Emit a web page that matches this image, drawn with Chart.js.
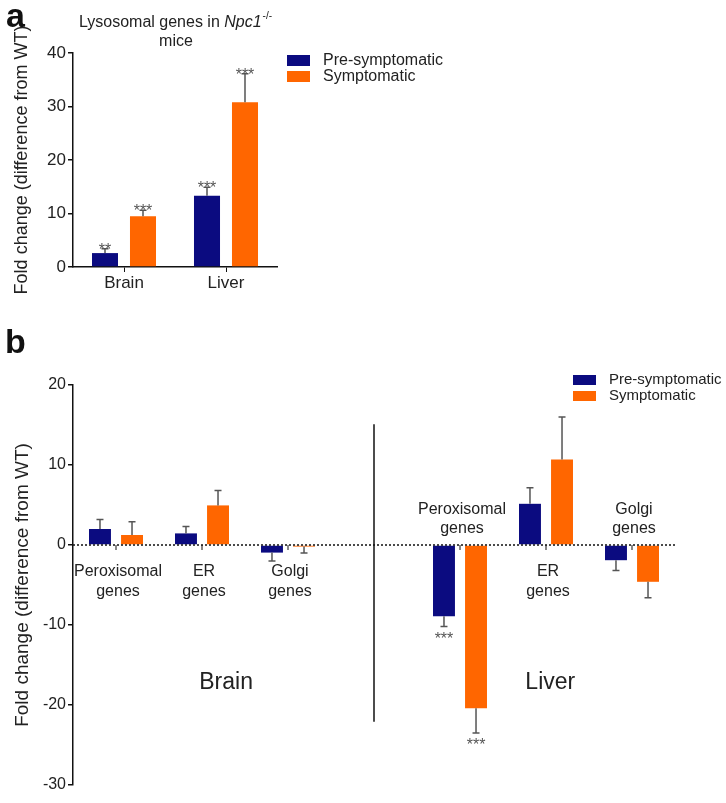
<!DOCTYPE html>
<html>
<head>
<meta charset="utf-8">
<script src="https://cdn.jsdelivr.net/npm/chart.js@4.4.0/dist/chart.umd.min.js"></script>
<style>
  html, body { margin: 0; padding: 0; background: #fff; }
  #wrap-a { position: absolute; left: 0; top: 0; }
  #wrap-b { position: absolute; left: 0; top: 300px; }
</style>
</head>
<body>
<div id="wrap-a"><canvas id="chart-a" width="726" height="300"></canvas></div>
<div id="wrap-b"><canvas id="chart-b" width="726" height="503"></canvas></div>
<script>
var FONT = "'Liberation Sans', Arial, sans-serif";

var seriesNames = ['Pre-symptomatic', 'Symptomatic'];
var seriesColors = ['#0b0b80', '#ff6600'];

// panel a: lysosomal genes
var tissues = ['Brain', 'Liver'];
var lysoPre = [2.6, 13.3];
var lysoPreErr = [0.8, 1.6];
var lysoPreStars = ['**', '***'];
var lysoSym = [9.5, 30.8];
var lysoSymErr = [1.1, 5.3];
var lysoSymStars = ['***', '***'];
var yTicksA = [0, 10, 20, 30, 40];

// panel b: other organelle genes (4th slot is the brain / liver divider)
var geneSets = ['Peroxisomal genes', 'ER genes', 'Golgi genes', '', 'Peroxisomal genes', 'ER genes', 'Golgi genes'];
var orgPre = [2.0, 1.45, -0.95, null, -8.9, 5.15, -1.9];
var orgPreErr = [1.2, 0.85, 1.05, null, 1.3, 2.0, 1.3];
var orgPreStars = ['', '', '', '', '***', '', ''];
var orgSym = [1.25, 4.95, -0.2, null, -20.4, 10.7, -4.6];
var orgSymErr = [1.65, 1.85, 0.8, null, 3.1, 5.3, 2.0];
var orgSymStars = ['', '', '', '', '***', '', ''];
var groupNames = ['Brain', 'Liver'];
var yTicksB = [-30, -20, -10, 0, 10, 20];

// where the gene set labels go, relative to the zero line
var labelSide = ['below', 'below', 'below', null, 'above', 'below', 'above'];
var groupAt = [1.28, 5.05];
var dividerFrom = 15.1, dividerTo = -22.1;

function makeDataset(i, data, errs, stars) {
  return {
    label: seriesNames[i],
    data: data,
    errors: errs,
    stars: stars,
    backgroundColor: seriesColors[i],
    borderWidth: 0,
    categoryPercentage: 0.745,
    barPercentage: 0.685
  };
}

var errorBars = {
  id: 'errorBars',
  afterDatasetsDraw: function(chart) {
    var ctx = chart.ctx, y = chart.scales.y;
    chart.data.datasets.forEach(function(ds, i) {
      var meta = chart.getDatasetMeta(i);
      meta.data.forEach(function(bar, j) {
        var v = ds.data[j];
        if (v === null) return;
        var end = v >= 0 ? v + ds.errors[j] : v - ds.errors[j];
        var y0 = y.getPixelForValue(v), y1 = y.getPixelForValue(end);
        ctx.save();
        ctx.strokeStyle = '#555';
        ctx.lineWidth = 1.5;
        ctx.beginPath();
        ctx.moveTo(bar.x, y0);
        ctx.lineTo(bar.x, y1);
        ctx.moveTo(bar.x - 3.5, y1);
        ctx.lineTo(bar.x + 3.5, y1);
        ctx.stroke();
        if (ds.stars[j]) {
          ctx.fillStyle = '#555';
          ctx.font = '16px ' + FONT;
          ctx.textAlign = 'center';
          ctx.textBaseline = 'alphabetic';
          ctx.fillText(ds.stars[j], bar.x, v >= 0 ? y1 + 6 : y1 + 17);
        }
        ctx.restore();
      });
    });
  }
};

function drawLegend(ctx, x, y, boxW, boxH, gap, size) {
  ctx.save();
  ctx.font = size + 'px ' + FONT;
  ctx.textBaseline = 'middle';
  ctx.textAlign = 'left';
  for (var i = 0; i < seriesNames.length; i++) {
    ctx.fillStyle = seriesColors[i];
    ctx.fillRect(x, y + i * gap, boxW, boxH);
    ctx.fillStyle = '#222';
    ctx.fillText(seriesNames[i], x + boxW + 13, y + i * gap + boxH / 2);
  }
  ctx.restore();
}

function panelLetter(ctx, letter, x, y) {
  ctx.save();
  ctx.font = 'bold 34px ' + FONT;
  ctx.fillStyle = '#111';
  ctx.textBaseline = 'alphabetic';
  ctx.fillText(letter, x, y);
  ctx.restore();
}

var decorA = {
  id: 'decorA',
  afterDraw: function(chart) {
    var ctx = chart.ctx;
    panelLetter(ctx, 'a', 6, 27);
    // title with italic gene name and superscript
    ctx.save();
    ctx.fillStyle = '#222';
    ctx.textBaseline = 'middle';
    var p1 = 'Lysosomal genes in ', p2 = 'Npc1', p3 = '-/-';
    ctx.font = '16px ' + FONT;
    var w1 = ctx.measureText(p1).width;
    ctx.font = 'italic 16px ' + FONT;
    var w2 = ctx.measureText(p2).width;
    ctx.font = '10px ' + FONT;
    var w3 = ctx.measureText(p3).width;
    var x = 175 - (w1 + w2 + w3) / 2;
    ctx.textAlign = 'left';
    ctx.font = '16px ' + FONT;
    ctx.fillText(p1, x, 23);
    ctx.font = 'italic 16px ' + FONT;
    ctx.fillText(p2, x + w1, 23);
    ctx.font = '10px ' + FONT;
    ctx.fillText(p3, x + w1 + w2 + 1, 16);
    ctx.font = '16px ' + FONT;
    ctx.textAlign = 'center';
    ctx.fillText('mice', 176, 42);
    ctx.restore();
    drawLegend(ctx, 287, 55, 23, 11, 16, 16);
  }
};

var decorB = {
  id: 'decorB',
  afterDraw: function(chart) {
    var ctx = chart.ctx, xs = chart.scales.x, ys = chart.scales.y;
    var area = chart.chartArea;
    var zeroY = ys.getPixelForValue(0);
    panelLetter(ctx, 'b', 5, 53);
    ctx.save();
    // dotted zero line
    ctx.strokeStyle = '#111';
    ctx.lineWidth = 1.5;
    ctx.setLineDash([2, 2]);
    ctx.beginPath();
    ctx.moveTo(area.left, zeroY);
    ctx.lineTo(area.right, zeroY);
    ctx.stroke();
    ctx.setLineDash([]);
    // category ticks
    ctx.lineWidth = 1;
    ctx.beginPath();
    for (var i = 0; i < geneSets.length; i++) {
      if (!geneSets[i]) continue;
      var cx = xs.getPixelForValue(i);
      ctx.moveTo(cx, zeroY);
      ctx.lineTo(cx, zeroY + 5);
    }
    ctx.stroke();
    // brain / liver divider
    var dx = xs.getPixelForValue(3);
    ctx.lineWidth = 1.5;
    ctx.beginPath();
    ctx.moveTo(dx, ys.getPixelForValue(dividerFrom));
    ctx.lineTo(dx, ys.getPixelForValue(dividerTo));
    ctx.stroke();
    // gene set labels
    ctx.fillStyle = '#222';
    ctx.font = '16px ' + FONT;
    ctx.textAlign = 'center';
    ctx.textBaseline = 'middle';
    for (var k = 0; k < geneSets.length; k++) {
      if (!geneSets[k]) continue;
      var words = geneSets[k].split(' ');
      var lx = xs.getPixelForValue(k) + 2;
      if (labelSide[k] === 'below') {
        ctx.fillText(words[0], lx, zeroY + 27);
        ctx.fillText(words[1], lx, zeroY + 47);
      } else {
        ctx.fillText(words[0], lx, zeroY - 35);
        ctx.fillText(words[1], lx, zeroY - 16);
      }
    }
    ctx.font = '23px ' + FONT;
    for (var g = 0; g < groupNames.length; g++) {
      ctx.fillText(groupNames[g], xs.getPixelForValue(groupAt[g]), ys.getPixelForValue(-17.2));
    }
    ctx.restore();
    drawLegend(ctx, 573, 75, 23, 10, 16, 15);
  }
};

var yAxisCommon = function(ticks, titleSize, titlePad, tickSize) {
  return {
    min: ticks[0],
    max: ticks[ticks.length - 1],
    afterFit: function(s) { s.width = 73; },
    afterBuildTicks: function(s) { s.ticks = ticks.map(function(v) { return { value: v }; }); },
    border: { color: '#111', width: 1.5 },
    grid: { drawOnChartArea: false, drawTicks: true, tickLength: 5, color: '#111', lineWidth: 1.5 },
    ticks: { color: '#222', padding: 2, font: { family: FONT, size: tickSize } },
    title: {
      display: true,
      text: 'Fold change (difference from WT)',
      color: '#222',
      font: { family: FONT, size: titleSize },
      padding: { top: titlePad, bottom: 0 }
    }
  };
};

new Chart(document.getElementById('chart-a'), {
  type: 'bar',
  data: {
    labels: tissues,
    datasets: [
      makeDataset(0, lysoPre, lysoPreErr, lysoPreStars),
      makeDataset(1, lysoSym, lysoSymErr, lysoSymStars)
    ]
  },
  options: {
    responsive: false,
    animation: false,
    layout: { padding: { left: 0, top: 53, right: 449, bottom: 3 } },
    plugins: { legend: { display: false }, tooltip: { enabled: false } },
    scales: {
      x: {
        afterFit: function(s) { s.height = 30; },
        border: { color: '#111', width: 1.5, dash: [2, 2] },
        grid: { offset: false, drawOnChartArea: false, drawTicks: true, tickLength: 5, color: '#111' },
        ticks: { color: '#222', padding: 1, font: { family: FONT, size: 17 } }
      },
      y: yAxisCommon(yTicksA, 18, 11, 17)
    }
  },
  plugins: [errorBars, decorA]
});

new Chart(document.getElementById('chart-b'), {
  type: 'bar',
  data: {
    labels: geneSets,
    datasets: [
      makeDataset(0, orgPre, orgPreErr, orgPreStars),
      makeDataset(1, orgSym, orgSymErr, orgSymStars)
    ]
  },
  options: {
    responsive: false,
    animation: false,
    layout: { padding: { left: 0, top: 85, right: 51, bottom: 18 } },
    plugins: { legend: { display: false }, tooltip: { enabled: false } },
    scales: {
      x: { display: false },
      y: yAxisCommon(yTicksB, 19, 11, 16)
    }
  },
  plugins: [errorBars, decorB]
});
</script>
</body>
</html>
